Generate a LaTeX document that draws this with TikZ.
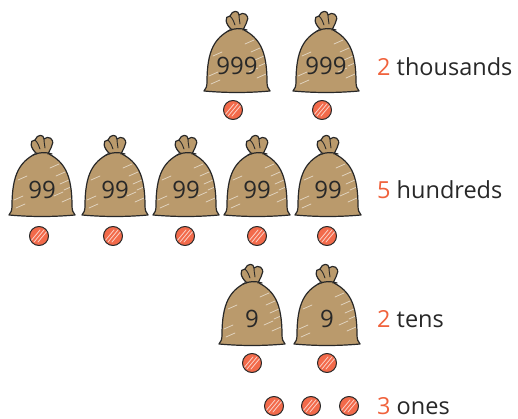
\documentclass[tikz,border=0pt]{standalone}
\usepackage{fontspec}
\setmainfont{Open Sans}
\definecolor{sack}{RGB}{186,154,108}
\definecolor{ink}{RGB}{40,40,40}
\definecolor{coinred}{RGB}{242,106,74}
\definecolor{numred}{RGB}{240,98,60}
\tikzset{
  outline/.style={draw=ink, line width=1.2pt, line join=round, line cap=round},
  streak/.style={draw=white, opacity=0.55, line width=0.8pt, line cap=round},
  bagtext/.style={font=\fontsize{24}{24}\selectfont, text=ink, inner sep=0pt},
  label/.style={font=\fontsize{23.5}{24}\selectfont, text=ink, anchor=base west, inner sep=0pt},
  bag/.pic={
    % body of the sack
    \path[fill=sack] (-7,-22) .. controls (-22,-14) and (-30,-2) .. (-30,30)
      .. controls (-30,34) and (-31,37) .. (-33,39)
      .. controls (-10,41) and (10,41) .. (33,39)
      .. controls (31,37) and (30,34) .. (30,30)
      .. controls (30,-2) and (22,-14) .. (7,-22) -- cycle;
    \begin{scope}
      \clip (-30,-20) rectangle (33,40);
      \foreach \a/\b in {8/-8,14/0,18/8,12/20,20/26,-28/24,-26/32,22/14,-24/4}
        \draw[streak] (\a,\b) -- ++(9,-4);
    \end{scope}
    \draw[outline] (-7,-22) .. controls (-22,-14) and (-30,-2) .. (-30,30)
      .. controls (-30,34) and (-31,37) .. (-33,39)
      .. controls (-10,41) and (10,41) .. (33,39)
      .. controls (31,37) and (30,34) .. (30,30)
      .. controls (30,-2) and (22,-14) .. (7,-22);
    % gathered top
    \draw[outline, fill=sack] (-5,-22) .. controls (-12,-28) and (-13,-36) .. (-7,-36)
      .. controls (-5,-42) and (2,-42) .. (2,-37)
      .. controls (6,-41) and (13,-37) .. (10,-31)
      .. controls (9,-27) and (7,-25) .. (6,-22);
    \draw[outline, line width=0.9pt] (-7,-36) .. controls (-4,-33) and (-3,-30) .. (-2,-27);
    \draw[outline, line width=0.9pt] (2,-37) .. controls (2,-33) and (3,-30) .. (3,-28);
    \draw[outline] (-9,-21) .. controls (-3,-24) and (4,-24) .. (10,-22);
    \node[bagtext] at (0,14) {#1};
  },
  coin/.pic={
    \fill[coinred] (0,0) circle (9.5);
    \begin{scope}
      \clip (0,0) circle (9.5);
      \foreach \d in {-4,0,4}
        \draw[streak, opacity=0.7] (\d-5,6) -- (\d+5,-6);
    \end{scope}
    \draw[outline, line width=1pt] (0,0) circle (9.5);
  }
}
\begin{document}
\begin{tikzpicture}[x=1pt, y=-1pt]
  \useasboundingbox[fill=white] (0,0) rectangle (518,419);

  % thousands
  \pic at (237,52) {bag=999};
  \pic at (326,52) {bag=999};
  \pic at (233,110) {coin};
  \pic at (322,110) {coin};
  \node[label] (thousands) at (377,76) {\textcolor{numred}{2} thousands};

  % hundreds
  \foreach \x in {42,115,186,257,328}
    \pic at (\x,176) {bag=99};
  \foreach \x in {39,113,185,257,327}
    \pic at (\x,236) {coin};
  \node[label] (hundreds) at (377,199) {\textcolor{numred}{5} hundreds};

  % tens
  \pic at (252,305) {bag=9};
  \pic at (327,305) {bag=9};
  \pic at (252,363) {coin};
  \pic at (327,363) {coin};
  \node[label] (tens) at (377,327) {\textcolor{numred}{2} tens};

  % ones
  \foreach \x in {274,311,349}
    \pic at (\x,406) {coin};
  \node[label] (ones) at (377,414) {\textcolor{numred}{3} ones};
\end{tikzpicture}
\end{document}
